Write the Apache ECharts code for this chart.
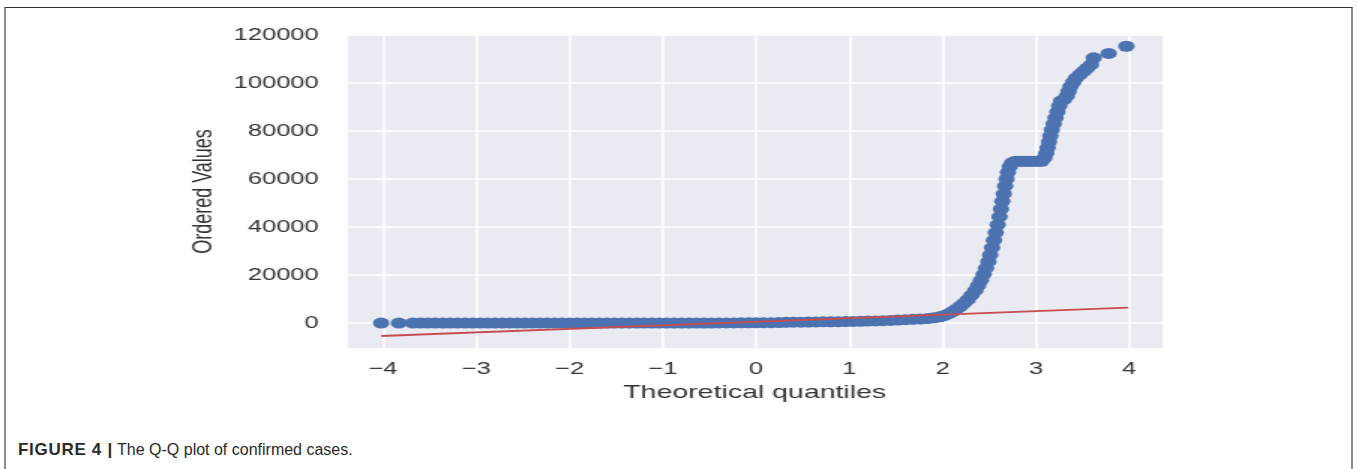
<!DOCTYPE html>
<html>
<head>
<meta charset="utf-8">
<script src="https://cdn.jsdelivr.net/npm/echarts@6/dist/echarts.min.js"></script>
<style>
html,body{margin:0;padding:0;width:1357px;height:469px;overflow:hidden;background:#fff;}
#frame{position:absolute;left:4px;top:7px;width:1345px;height:470px;border-top:1px solid #333;border-left:2px solid #8c8c8c;border-right:2px solid #8c8c8c;}
#chart{position:absolute;left:0;top:0;width:905px;height:420px;transform:scaleX(1.5);transform-origin:0 0;}
#caption{position:absolute;left:18px;top:440px;font-family:'Liberation Sans',Arial,sans-serif;font-size:16px;color:#2a2a2a;white-space:nowrap;}
#caption b{font-weight:bold;font-size:17px;letter-spacing:0.7px;}
</style>
</head>
<body>
<div id="frame"></div>
<div id="chart"></div>
<div id="caption"><b>FIGURE 4 |</b> The Q-Q plot of confirmed cases.</div>
<script>
// Theoretical quantiles (x) of the scatter points
const quantiles = [
  -4.02, -3.83,
  -3.68,-3.60,-3.52,-3.44,-3.36,-3.28,-3.20,-3.12,-3.04,-2.96,-2.88,-2.80,-2.72,-2.64,-2.56,-2.48,-2.40,-2.32,-2.24,-2.16,-2.08,-2.00,
  -1.92,-1.84,-1.76,-1.68,-1.60,-1.52,-1.44,-1.36,-1.28,-1.20,-1.12,-1.04,-0.96,-0.88,-0.80,-0.72,-0.64,-0.56,-0.48,-0.40,-0.32,-0.24,-0.16,-0.08,
  0.00,0.08,0.16,0.24,0.32,0.40,0.48,0.56,0.64,0.72,0.80,0.88,0.96,1.04,1.12,1.20,1.28,
  1.36,1.44,1.52,1.60,1.68,1.76,1.84,1.91,1.97,2.02,2.07,2.11,2.15,2.19,2.23,2.27,2.31,2.35,2.38,2.41,2.44,2.465,2.49,2.51,2.53,2.55,2.57,2.59,2.61,2.625,2.64,2.655,2.67,2.685,2.70,2.72,2.745,
  2.78,2.82,2.86,2.90,2.94,2.98,3.02,3.06,
  3.09,3.11,3.125,3.14,3.155,3.17,3.19,3.21,3.23,3.25,3.27,3.30,3.33,3.35,3.37,3.40,3.43,3.47,3.51,3.55,3.59,
  3.62,3.78,3.97
];
// Ordered values (y) of the scatter points (confirmed cases)
const orderedValues = [
  0, 0,
  0,0,0,0,0,0,0,0,0,0,0,0,0,0,0,0,0,0,0,0,0,0,
  0,0,0,0,0,0,0,0,0,0,0,0,5,8,10,15,20,25,35,45,60,75,90,110,
  130,150,180,210,330,360,390,420,460,500,540,580,630,690,750,820,900,
  1000,1100,1250,1400,1550,1700,1900,2200,2600,3200,4000,4900,5900,7000,8300,9800,11600,13600,15600,17800,20300,22800,25600,28400,31400,34500,37700,41000,44300,47500,50700,53800,57000,60000,62800,65200,66800,
  67400,67400,67400,67400,67400,67400,67400,67400,
  68800,70700,73000,75500,78000,80500,83000,85500,88000,90500,92500,93100,94500,96500,98500,100300,102000,103500,104800,106200,107600,
  110500,112300,115300
];
// Fitted reference line (two end points)
const lineQuantiles = [-4.02, 3.99];
const lineValues = [-5400, 6450];

const FONT = "'Liberation Sans', Arial, sans-serif";
const scatterData = quantiles.map((q, i) => [q, orderedValues[i]]);
const lineData = lineQuantiles.map((q, i) => [q, lineValues[i]]);

const chart = echarts.init(document.getElementById('chart'), null, {width: 905, height: 420, renderer: 'canvas'});
chart.setOption({
  animation: false,
  backgroundColor: 'transparent',
  grid: {left: 230.5, right: 129.2, top: 34, bottom: 71, show: true, backgroundColor: '#EAEAF2', borderWidth: 0},
  xAxis: {
    type: 'value', min: -4.4, max: 4.37, splitNumber: 9, minInterval: 1, maxInterval: 1,
    axisLine: {show: false}, axisTick: {show: false},
    splitLine: {show: true, lineStyle: {color: '#ffffff', width: 1.5}},
    axisLabel: {showMinLabel: false, showMaxLabel: false, margin: 12, fontSize: 17, color: '#333', fontFamily: FONT,
      formatter: v => (v < 0 ? '\u2212' + Math.abs(v) : String(v))},
    name: 'Theoretical quantiles', nameLocation: 'middle', nameGap: 31,
    nameTextStyle: {fontSize: 19, color: '#333', fontFamily: FONT}
  },
  yAxis: {
    type: 'value', min: -10800, max: 120400, splitNumber: 6, minInterval: 20000, maxInterval: 20000,
    axisLine: {show: false}, axisTick: {show: false},
    splitLine: {show: true, lineStyle: {color: '#ffffff', width: 1.6}},
    axisLabel: {showMinLabel: false, showMaxLabel: false, margin: 18, fontSize: 17, color: '#333', fontFamily: FONT,
      formatter: v => String(v)},
    name: 'Ordered Values', nameLocation: 'middle', nameGap: 84,
    nameTextStyle: {fontSize: 18, color: '#333', fontFamily: FONT}
  },
  series: [
    {type: 'scatter', data: scatterData, symbol: 'circle', symbolSize: 11,
     itemStyle: {color: '#4C72B0', opacity: 1}, z: 2, silent: true},
    {type: 'line', data: lineData, showSymbol: false, lineStyle: {color: '#C44E52', width: 1.9}, z: 3, silent: true}
  ]
});
</script>
</body>
</html>
